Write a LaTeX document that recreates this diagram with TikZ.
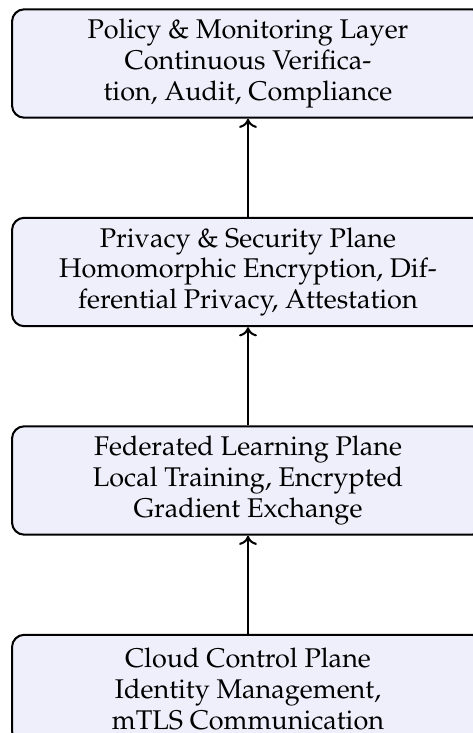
\documentclass[tikz,border=0pt]{standalone}
\usepackage[T1]{fontenc}
\usepackage{mathpazo}
\usetikzlibrary{arrows.meta}
\definecolor{boxfill}{RGB}{239,239,251}
\tikzset{
  layerbox/.style={draw=black, line width=0.8pt, rounded corners=4.8pt, fill=boxfill,
    minimum width=185pt, minimum height=42.5pt, align=center, inner sep=0pt,
    font=\fontsize{10.6}{12.1}\selectfont},
  flow/.style={line width=0.8pt, -{Computer Modern Rightarrow[width=7pt,length=3.6pt]}}
}
\begin{document}
\begin{tikzpicture}[x=0.392pt,y=-0.392pt]
\useasboundingbox (0,0) rectangle (473,733);
\clip (0,0) rectangle (473,733);
\node[layerbox] (policy) at (248,63.5) {Policy \& Monitoring Layer\\Continuous Verifica-\\tion, Audit, Compliance};
\node[layerbox] (privacy) at (248,272) {Privacy \& Security Plane\\Homomorphic Encryption, Dif-\\ferential Privacy, Attestation};
\node[layerbox] (fed) at (248,480.5) {Federated Learning Plane\\Local Training, Encrypted\\Gradient Exchange};
\node[layerbox] (cloud) at (248,689) {Cloud Control Plane\\Identity Management,\\mTLS Communication};
\draw[flow] (cloud.north) -- (fed.south);
\draw[flow] (fed.north) -- (privacy.south);
\draw[flow] (privacy.north) -- (policy.south);
\end{tikzpicture}
\end{document}
